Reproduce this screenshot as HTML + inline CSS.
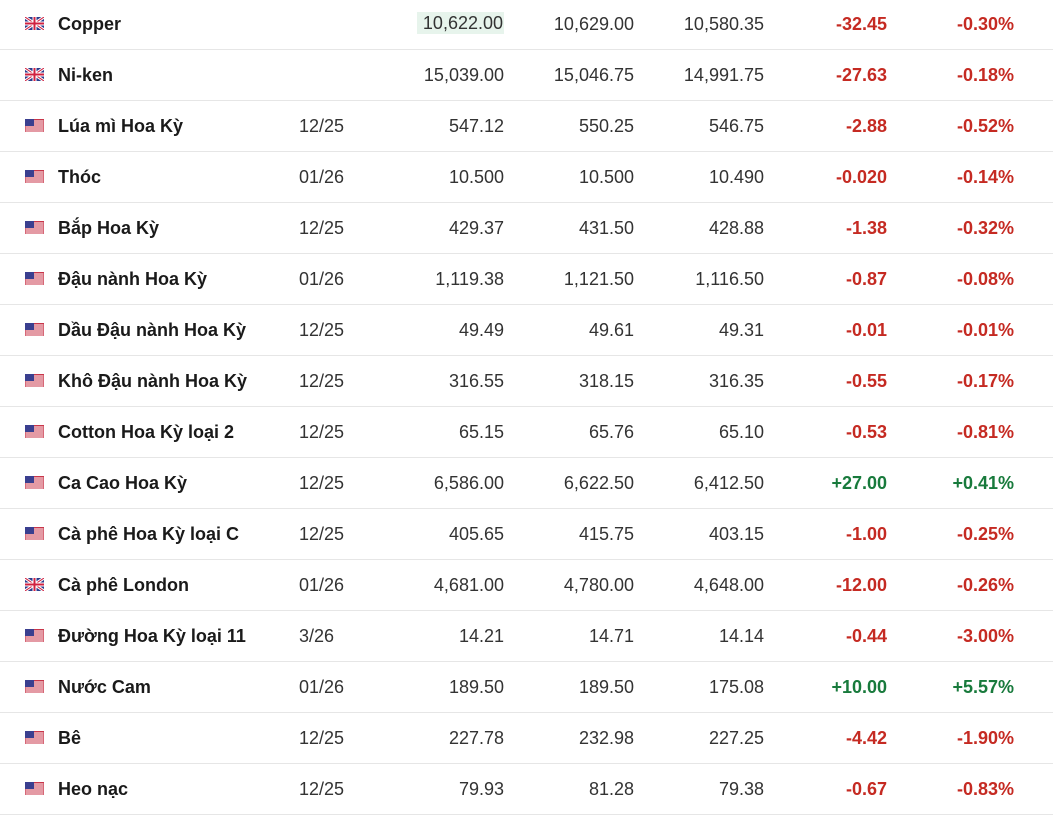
<!DOCTYPE html>
<html><head><meta charset="utf-8"><style>
body{margin:0;width:1053px;height:819px;background:#fff;font-family:"Liberation Sans","DejaVu Sans",sans-serif;overflow:hidden;position:relative}
.r{position:absolute;left:0;width:1053px;height:51px;border-bottom:1px solid #e6e6e6;box-sizing:border-box}
.r div{position:absolute;top:0;line-height:50px;font-size:18px;color:#333;white-space:nowrap}
.n{left:58px;font-weight:bold;color:#1a1a1a!important}
.d{left:299px}
.c1{right:549px}.c2{right:419px}.c3{right:289px}.c4{right:166px}.c5{right:39px}
.neg{color:#c52a22!important;font-weight:bold}.pos{color:#187a3c!important;font-weight:bold}
.f{position:absolute;left:25px;top:18px;width:19px;height:13px}
.hl{background:#e7f4ec;line-height:22px!important;top:13px!important;padding:0 1px 0 6px}
</style></head><body>
<svg width="0" height="0" style="position:absolute"><defs>
<g id="uk"><rect width="19" height="13" fill="#2a3a8c"/><path d="M0 0L19 13M19 0L0 13" stroke="#fff" stroke-width="3"/><path d="M0 0L19 13M19 0L0 13" stroke="#d02040" stroke-width="1"/><path d="M9.5 0V13M0 6.5H19" stroke="#fff" stroke-width="4"/><path d="M9.5 0V13M0 6.5H19" stroke="#d02040" stroke-width="2"/></g>
<g id="us"><rect width="19" height="13" fill="#fff"/><path d="M0 1H19M0 3H19M0 5H19M0 7H19M0 9H19M0 11H19" stroke="#c8364a" stroke-width="1"/><rect width="19" height="13" fill="none" stroke="#c8364a" stroke-width="1"/><rect width="9" height="7" fill="#3a3f8f"/></g>
</defs></svg>
<div id="t"></div>
<script>
var rows=[
["uk","Copper","","10,622.00","10,629.00","10,580.35","-32.45","-0.30%"],
["uk","Ni-ken","","15,039.00","15,046.75","14,991.75","-27.63","-0.18%"],
["us","Lúa mì Hoa Kỳ","12/25","547.12","550.25","546.75","-2.88","-0.52%"],
["us","Thóc","01/26","10.500","10.500","10.490","-0.020","-0.14%"],
["us","Bắp Hoa Kỳ","12/25","429.37","431.50","428.88","-1.38","-0.32%"],
["us","Đậu nành Hoa Kỳ","01/26","1,119.38","1,121.50","1,116.50","-0.87","-0.08%"],
["us","Dầu Đậu nành Hoa Kỳ","12/25","49.49","49.61","49.31","-0.01","-0.01%"],
["us","Khô Đậu nành Hoa Kỳ","12/25","316.55","318.15","316.35","-0.55","-0.17%"],
["us","Cotton Hoa Kỳ loại 2","12/25","65.15","65.76","65.10","-0.53","-0.81%"],
["us","Ca Cao Hoa Kỳ","12/25","6,586.00","6,622.50","6,412.50","+27.00","+0.41%"],
["us","Cà phê Hoa Kỳ loại C","12/25","405.65","415.75","403.15","-1.00","-0.25%"],
["uk","Cà phê London","01/26","4,681.00","4,780.00","4,648.00","-12.00","-0.26%"],
["us","Đường Hoa Kỳ loại 11","3/26","14.21","14.71","14.14","-0.44","-3.00%"],
["us","Nước Cam","01/26","189.50","189.50","175.08","+10.00","+5.57%"],
["us","Bê","12/25","227.78","232.98","227.25","-4.42","-1.90%"],
["us","Heo nạc","12/25","79.93","81.28","79.38","-0.67","-0.83%"]];
var h="";rows.forEach(function(r,i){var cls=r[6][0]=="+"?"pos":"neg";
h+='<div class="r" style="top:'+(i*51-1)+'px"><svg class="f"><use href="#'+r[0]+'"/></svg><div class="n">'+r[1]+'</div><div class="d">'+r[2]+'</div><div class="c1'+(i==0?' hl':'')+'">'+r[3]+'</div><div class="c2">'+r[4]+'</div><div class="c3">'+r[5]+'</div><div class="c4 '+cls+'">'+r[6]+'</div><div class="c5 '+cls+'">'+r[7]+'</div></div>';});
document.getElementById("t").innerHTML=h;
</script>
</body></html>
